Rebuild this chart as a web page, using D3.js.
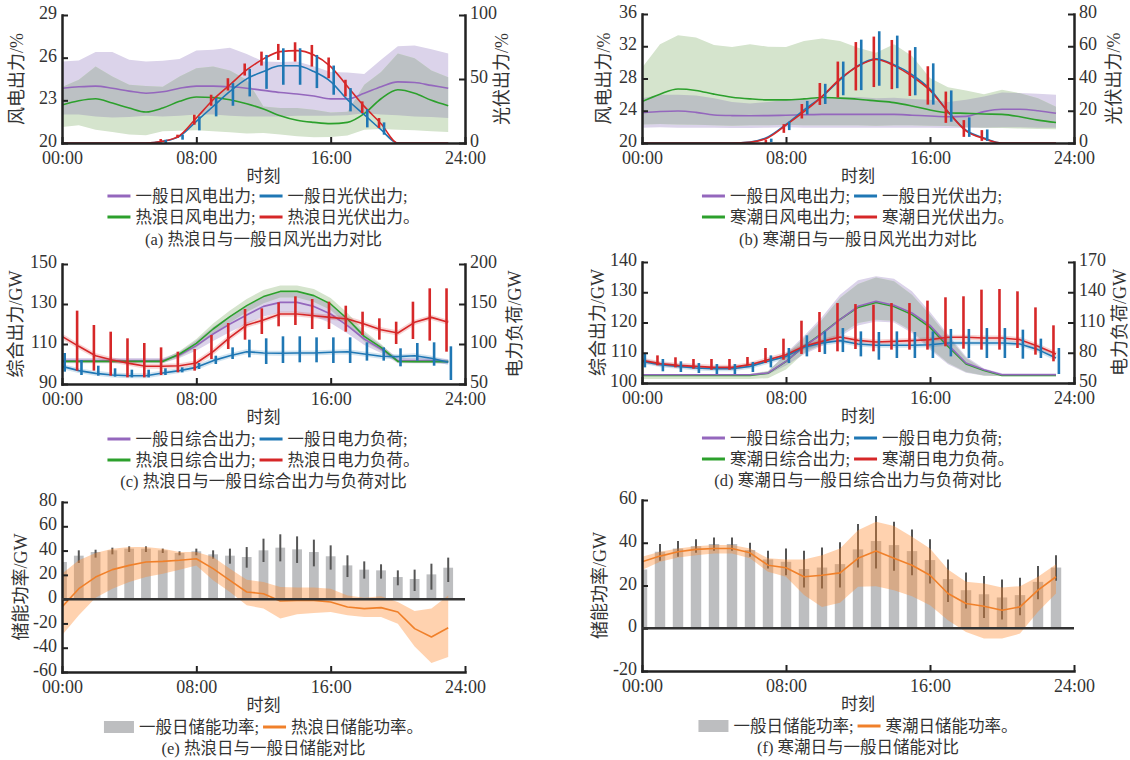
<!DOCTYPE html>
<html>
<head>
<meta charset="utf-8">
<script src="https://cdn.jsdelivr.net/npm/d3@7"></script>
<style>
body { margin: 0; background: #fff; }
</style>
</head>
<body>
<script>
// hours of the day and axis ticks
var hours = [0,1,2,3,4,5,6,7,8,9,10,11,12,13,14,15,16,17,18,19,20,21,22,23];
var hourTicks = [0, 8, 16, 24];

// (a) heat wave vs normal day, wind (left axis) and pv (right axis)
var aWindNormal   = [23.85,23.95,24.0,23.85,23.65,23.5,23.6,23.85,24.0,24.0,23.95,23.85,23.7,23.55,23.45,23.3,23.1,23.1,23.5,23.95,24.3,24.25,24.05,23.85];
var aWindNormalHi = [25.73,25.8,26.4,26.4,25.85,25.73,25.78,25.9,26.5,26.55,26.7,26.25,25.73,25.7,25.73,25.4,25.0,24.95,24.85,25.85,26.8,26.85,26.6,26.3];
var aWindNormalLo = [22.0,22.0,21.87,21.8,21.82,21.92,21.87,21.92,22.0,22.0,21.92,21.87,21.87,21.87,21.92,21.92,21.92,21.95,22.1,22.0,21.95,21.87,21.82,21.76];
var aWindHeat     = [22.67,22.97,23.11,22.81,22.46,22.18,22.46,22.93,23.23,23.2,23.04,22.76,22.39,21.92,21.6,21.45,21.36,21.45,22.06,23.11,23.74,23.5,23.0,22.62];
var aWindHeatHi   = [23.93,24.45,25.38,24.68,24.1,24.0,23.95,24.68,25.26,25.38,25.1,24.45,22.57,22.46,22.46,22.34,22.15,22.2,24.1,25.0,26.3,25.96,25.1,24.63];
var aWindHeatLo   = [21.13,21.25,20.94,20.78,20.6,20.54,20.82,20.87,20.9,20.82,20.75,20.66,20.7,20.6,20.47,20.4,20.42,20.52,20.94,20.99,20.94,20.9,20.82,20.78];
var aPvNormal   = [0,0,0,0,0,0,1.3,5.2,16.9,28.6,40.3,50.1,55.8,60.3,60.3,55.8,48,33.8,22.1,10.4,0,0,0,0];
var aPvNormalLo = [null,null,null,null,null,null,0,2.6,9.9,20.8,29.1,36.4,42.3,45.5,45.5,42.9,37.7,24.7,12.2,6.5,null,null,null,null];
var aPvNormalHi = [null,null,null,null,null,null,2.6,6.5,20.8,35.1,46.8,57.9,68.8,74,74,68.8,60.5,42.9,26.5,16.1,null,null,null,null];
var aPvHeat   = [0,0,0,0,0,0,1.3,5.7,19.5,33.8,45.5,57.1,65.7,71.4,72.2,68.8,59.7,44.2,28.6,15.1,0,0,0,0];
var aPvHeatLo = [null,null,null,null,null,null,0.5,3.9,14.3,29.1,41,52.7,60.5,64.9,63.6,59.7,50.6,36.4,23.4,11.7,null,null,null,null];
var aPvHeatHi = [null,null,null,null,null,null,3.1,6.5,22.1,37.7,50.6,62.1,71.4,77.4,78.7,76.6,66.8,49.4,32.5,19.5,null,null,null,null];

// (b) cold wave vs normal day
var bWindNormal   = [23.76,23.9,23.97,23.8,23.47,23.4,23.38,23.4,23.45,23.5,23.55,23.55,23.55,23.55,23.55,23.45,23.34,23.26,23.3,23.89,24.18,24.18,24.0,23.68];
var bWindNormalHi = [25.56,25.97,25.97,25.9,25.56,25.1,24.9,25.1,25.35,25.45,25.6,25.7,25.7,25.56,25.6,25.45,25.35,25.1,25.35,25.77,26.27,26.2,26.1,25.97];
var bWindNormalLo = [21.9,21.95,21.9,21.9,21.9,21.85,21.85,21.9,21.95,21.9,21.9,21.9,21.9,21.9,21.9,21.9,21.9,21.85,21.85,21.9,21.95,21.95,21.9,21.9];
var bWindCold     = [25.14,26.06,26.69,26.52,26.06,25.68,25.47,25.35,25.35,25.47,25.64,25.56,25.43,25.22,25.01,24.6,24.1,23.76,23.68,23.6,23.55,23.26,22.84,22.55];
var bWindColdHi   = [29.32,32.24,33.37,33.08,32.16,31.9,32.24,31.95,31.9,32.66,32.95,32.66,31.82,31.2,32.24,30.78,28.06,26.93,26.5,26.06,26.6,26.18,25.56,24.51];
var bWindColdLo   = [22.3,22.35,22.3,22.25,22.2,22.15,22.2,22.2,22.25,22.2,22.2,22.2,22.2,22.15,22.2,22.2,22.15,22.1,22.0,21.9,21.85,21.8,21.75,21.7];
var bPvNormal   = [0,0,0,0,0,0,0.6,3.8,11.5,20.5,28.8,39.2,48,52.2,48.6,42.4,33.4,19.4,7.9,3.1,0,0,0,0];
var bPvNormalLo = [null,null,null,null,null,null,null,0.6,8,17.7,24.2,29.6,32.8,35.5,34,29.6,23.8,13.2,3.8,1.3,null,null,null,null];
var bPvNormalHi = [null,null,null,null,null,null,null,2.7,13.2,26.1,36.7,50.5,64.1,69.3,66.6,59.5,49.4,32.6,15.9,8.4,null,null,null,null];
var bPvCold   = [0,0,0,0,0,0,0.5,3.3,11.1,19.4,28.8,39.7,47.6,51.8,48,41.3,32.6,19.4,7.5,2.7,0,0,0,0];
var bPvColdLo = [null,null,null,null,null,null,null,0,6.3,15.2,23.6,28.2,32.6,34.7,33.4,29.2,23.8,12.5,3.8,1.3,null,null,null,null];
var bPvColdHi = [null,null,null,null,null,null,null,2.1,11.7,24.2,37.2,50.5,62.6,66,63.9,57.4,47.6,31.9,14.2,8,null,null,null,null];

// (c) heat wave: combined output (left) and load (right)
var cGenNormal   = [101.7,101.7,101.7,101.7,101.7,101.7,101.7,104.5,109.2,115,120,124.5,128.8,130.8,130.8,128.8,125,119.2,112.5,107.5,101.7,101.7,101.7,101.2];
var cGenNormalHi = [103,103,103,103,103,103,103,106,111.7,118.5,124,129,133.8,135.8,135.8,133.8,129.5,123.2,115.5,109.5,103,103,103,102.5];
var cGenNormalLo = [100.4,100.4,100.4,100.4,100.4,100.4,100.4,103,106.7,111.5,116,120,123.8,125.8,125.8,123.8,120.5,115.2,109.5,105.5,100.4,100.4,100.4,99.9];
var cGenHeat     = [101.3,101.3,101.3,101.3,101.3,101.3,101.3,105,110.3,117.5,123.7,129.2,133.7,136.3,136.3,134.2,130,122.5,113.8,108.3,101.3,101.2,101.2,101.2];
var cGenHeatHi   = [102,102,102,102,102,102,102.2,106.5,112.5,120.3,126.8,132.5,137,139.3,139.3,137.5,133,125.5,116.5,110,102,101.9,101.9,101.9];
var cGenHeatLo   = [100.6,100.6,100.6,100.6,100.6,100.6,100.5,103.5,108.2,114.7,120.6,126,130.4,133.3,133.3,131,127,119.5,111.2,106.5,100.6,100.5,100.5,100.5];
var cLoadNormal   = [72.1,66.7,63.3,61.25,60.4,60.4,63.75,66.7,70.8,79.2,85.4,90.4,88.75,88.5,88.75,88.75,89.6,90.4,87.5,84.6,84.2,85.4,82.1,77.1];
var cLoadNormalHi = [88.75,80,72.9,69.6,67.9,67.9,69.6,70.8,76.25,85.4,95.8,105.4,107.1,109.6,109.6,108.3,108.3,108.3,102.1,95.8,94.6,101.25,102.1,97.1];
var cLoadNormalLo = [65.4,61.25,60.4,59.2,58.3,58.3,61.25,64.6,68.75,75,81.25,83.3,75,76.25,77.1,77.1,76.25,76.25,79.2,79.2,72.1,79.2,72.9,55];
var cLoadHeat   = [109.6,97.1,85.4,80,75.8,72.1,72.1,72.9,76.25,90.4,108.3,123.75,130,137.5,137.5,135.4,133.3,131.25,125,117.9,113.75,127.1,133.3,127.1];
var cLoadHeatHi = [null,141.7,123.75,115.4,107.1,101.25,95.8,90.4,93.75,111.25,126.25,143.75,144.6,152.1,159.6,156.25,152.9,147.9,140.4,132.1,127.9,152.9,169.6,169.6];
var cLoadHeatLo = [null,66.7,66.7,60.4,58.3,58.3,61.25,64.6,66.7,81.25,93.75,105.4,112.5,122.1,123.75,118.75,118.75,115.4,111.25,105.4,100,106.25,104.2,90.4];

// (d) cold wave: combined output (left) and load (right)
var dGenNormal   = [102.75,102.75,102.75,102.75,102.75,102.75,102.75,103.3,107.16,112.12,116.2,120.94,125.34,127.0,125.67,123.14,119.06,112.67,106.61,104.41,102.75,102.75,102.75,102.75];
var dGenNormalHi = [103,103,103,103,103,103,103,103.8,109.8,115.5,121.8,129.2,134,135.3,134.5,130.3,123.5,116,108.8,104.8,103.2,103.2,103.2,103.2];
var dGenNormalLo = [102.4,102.4,102.4,102.4,102.4,102.4,102.4,102.8,105.8,109.5,112.2,115.4,119,120.3,120,116.5,111,106.2,103.4,102.4,102.4,102.4,102.4,102.4];
var dGenCold     = [102.5,102.5,102.5,102.5,102.5,102.5,102.5,103.2,107.1,112.2,116.4,121.0,125.0,126.6,125.3,122.6,118.4,112.1,106.3,104.1,102.5,102.5,102.5,102.5];
var dGenColdHi   = [103,103,103,103,103,103,103,104,109.4,114.9,120.9,128.1,132.7,134.9,133.6,129.2,122.6,115.4,108.3,104.4,102.8,102.8,102.8,102.8];
var dGenColdLo   = [101.3,101.3,101.3,101.3,101.3,101.3,101.3,101.6,104.5,109.9,112.7,116,119.8,120.9,120.6,117.1,111.6,106.6,103.6,102.5,102.2,102.2,102.2,102.2];
var dLoadNormal   = [71.5,68.2,66.5,64.9,64.2,64.2,66.5,71.5,76.4,85.4,89.7,92,88.7,87.4,87.4,87.4,88,89.7,89.7,89.7,89.7,88.7,83.1,74.8];
var dLoadNormalHi = [78.8,73.8,71.5,69.8,68.8,68.8,70.8,77.4,84.7,97.3,101.2,104.5,101.2,100.6,101.2,100.6,101.2,103.6,103.6,104.5,104.5,102.9,94,84.7];
var dLoadNormalLo = [65.5,61.6,60.9,59.9,58.9,58.9,60.9,65.5,69.8,76.4,78.8,80.7,76.4,73.1,74.8,74.8,74.8,76.4,74.8,74.8,74.8,74.1,74.8,58.9];
var dLoadCold   = [72.5,69.2,67.5,66.5,65.5,65.5,68.2,73.1,78.1,86.4,91.3,95.6,92.3,90.7,91.3,92,93,95.3,95.3,94.6,94.6,93,86.4,78.8];
var dLoadColdHi = [null,77.4,75.5,73.8,73.8,73.8,75.8,84.7,94,111.8,120.4,129.3,128.3,127.7,129.3,129.3,131.7,135,136,142.6,143.2,140.9,125,107.2];
var dLoadColdLo = [null,67.5,65.5,64.2,63.2,63.2,67.5,69.8,73.1,78.8,80.7,81.4,83.7,81.4,83.1,83.1,83.1,86.4,84,83.1,83.1,84.7,78.1,71.5];

// (e) storage power, heat wave
var eStorNormal   = [30.6,35.8,38.8,40.2,41.6,41.6,40.2,38,39.4,36.9,35.8,34.7,40.2,42.4,41,38.8,35.3,27.8,24.3,23.7,18.2,16.6,20.4,25.9];
var eStorNormalLo = [null,29.8,34.2,36.9,38.8,38.8,38,36.1,36.1,33.3,29.2,25.9,30.6,31.1,29.8,27,24.3,18.2,16.9,16.9,11.4,6.7,7.8,14.1];
var eStorNormalHi = [null,40.2,40.7,42.4,43.5,43.5,41.6,39.4,41.6,40.2,41.6,42.9,49.8,53.4,51.7,49,44.3,36.1,31.1,28.7,23.7,24.3,29.2,34.2];
var eStorHeat   = [-6.5,8.6,18.2,24.3,27.8,30.6,31.1,32,33.3,25.1,15.5,5.9,4.5,-1.5,-1,-1,-2.4,-6.5,-7.8,-7,-10.6,-24.3,-31.2,-23.5];
var eStorHeatHi = [21,32,38,41.6,42.9,42.9,41.6,38.8,38.8,34.7,25.1,16,14.1,10,9.5,9.5,8.6,3.1,1.2,2.3,-2.4,-9.8,-7.8,3.1];
var eStorHeatLo = [-29.8,-13.3,1.2,8.6,14.1,18.2,21,24.3,27.8,15.5,5.9,-5,-7.8,-16,-12.5,-11.4,-10.6,-13.3,-14.7,-14.7,-20.2,-38.9,-52.6,-47.6];

// (f) storage power, cold wave
var fStorNormal   = [27.5,35.8,37.3,38.4,39.4,39.4,36.6,32.2,31.1,27.7,28.4,30,36.9,40.8,38.9,36.1,31.9,23,17.8,15.9,14.4,15.5,21.7,28.4];
var fStorNormalLo = [null,31.6,33.4,35.3,36.3,36.3,33.4,28,24.8,19.1,18.6,19.1,28.4,28,26.9,24.8,20.9,12.3,9.2,4.8,4.1,6.1,13.6,22.2];
var fStorNormalHi = [null,39.4,40.8,41.6,42.5,42.5,40,36.3,37.3,36.3,37.8,40.2,48.75,52.5,49.8,46.25,41.6,32.2,26.1,24.5,22.8,23.6,29.1,34.2];
var fStorCold   = [31.1,33.75,35.8,36.9,37.3,37.3,35.3,29.5,28.3,24.1,24.8,25.9,32.7,36.1,32.7,29.5,24.8,16.25,11.6,10.3,8.4,10,17.8,24.1];
var fStorColdHi = [33.4,35.8,37.3,38.4,38.9,38.9,37.3,32.7,32.2,32.2,34.2,37.3,45.9,49.8,47.8,42.8,37.3,27.5,21.7,20.9,19.1,19.7,24.1,30];
var fStorColdLo = [27.2,31.1,33.1,34.2,35,35,32.7,26.4,24.1,15.5,10,11.9,19.4,19.7,17.8,15,10.8,3.75,-1.7,-4.8,-4.8,-2.5,7.7,16.25];

// axis ticks
var aTicks = [20, 23, 26, 29],       aTicks2 = [0, 50, 100];
var bTicks = [20, 24, 28, 32, 36],   bTicks2 = [0, 20, 40, 60, 80];
var cTicks = [90, 110, 130, 150],    cTicks2 = [50, 100, 150, 200];
var dTicks = [100, 110, 120, 130, 140], dTicks2 = [50, 80, 110, 140, 170];
var eTicks = [-60, -40, -20, 0, 20, 40, 60, 80];
var fTicks = [-20, 0, 20, 40, 60];

var FONT = '"Liberation Serif", "Noto Sans CJK SC", serif';
var PURPLE = "#9467bd", BLUE = "#1f77b4", GREEN = "#2ca02c", RED = "#d62728", ORANGE = "#f0802a";
var PURPLE_BAND = "#dbd3ea", GREEN_BAND = "#d5e4cd", GREY_BAND = "#bcc1c4";

var svg = d3.select("body").append("svg")
    .attr("width", 1130)
    .attr("height", 760);

var clipCount = 0;

function fmtHour(h){
    return (h < 10 ? "0" : "") + h + ":00";
}

//set up one panel: scales, clip, axes, titles
function makePanel(box, yDom, yTicks, yTitle, y2Dom, y2Ticks, y2Title){
    var p = {box: box};
    p.x = d3.scaleLinear().domain([0, 24]).range([box.left, box.right]);
    p.y = d3.scaleLinear().domain(yDom).range([box.bottom, box.top]);
    if (y2Dom) p.y2 = d3.scaleLinear().domain(y2Dom).range([box.bottom, box.top]);

    var id = "clip" + (clipCount++);
    p.clipId = id;
    svg.append("clipPath").attr("id", id).append("rect")
        .attr("x", box.left)
        .attr("y", box.top - 3)
        .attr("width", box.right - box.left)
        .attr("height", box.bottom - box.top + 3);
    p.plot = svg.append("g").attr("clip-path", "url(#" + id + ")");
    p.axes = svg.append("g");

    p.axes.append("g")
        .attr("transform", "translate(0," + box.bottom + ")")
        .call(d3.axisBottom(p.x).tickValues(hourTicks).tickFormat(fmtHour)
            .tickSize(-6).tickSizeOuter(0).tickPadding(8));
    var yAxes = p.axes.append("g");
    yAxes.append("g")
        .attr("transform", "translate(" + box.left + ",0)")
        .call(d3.axisLeft(p.y).tickValues(yTicks).tickFormat(function(d){ return String(d); })
            .tickSize(-6).tickSizeOuter(0).tickPadding(5));
    if (p.y2) {
        yAxes.append("g")
            .attr("transform", "translate(" + box.right + ",0)")
            .call(d3.axisRight(p.y2).tickValues(y2Ticks).tickFormat(function(d){ return String(d); })
                .tickSize(-6).tickSizeOuter(0).tickPadding(5));
    }
    yAxes.selectAll(".tick text").attr("dy", "0.2em");
    p.axes.selectAll(".domain").attr("stroke", "#222").attr("stroke-width", 2.5).attr("stroke-linecap", "square");
    p.axes.selectAll(".tick line").attr("stroke", "#222").attr("stroke-width", 2);
    p.axes.selectAll(".tick text").attr("font-family", FONT).attr("font-size", 18).attr("fill", "#333");

    var midY = (box.top + box.bottom) / 2;
    svg.append("text")
        .attr("transform", "translate(" + (box.left - box.tl) + "," + midY + ") rotate(-90)")
        .attr("text-anchor", "middle").attr("dominant-baseline", "central")
        .attr("font-family", FONT).attr("font-size", 18).attr("fill", "#333")
        .text(yTitle);
    if (y2Title) {
        svg.append("text")
            .attr("transform", "translate(" + (box.right + box.tr) + "," + midY + ") rotate(-90)")
            .attr("text-anchor", "middle").attr("dominant-baseline", "central")
            .attr("font-family", FONT).attr("font-size", 18).attr("fill", "#333")
            .text(y2Title);
    }
    //x axis title
    svg.append("text")
        .attr("x", (box.left + box.right) / 2).attr("y", box.bottom + 33)
        .attr("text-anchor", "middle").attr("dominant-baseline", "central")
        .attr("font-family", FONT).attr("font-size", 17).attr("fill", "#333")
        .text("时刻");
    return p;
}

function bandArea(p, y, lo, hi){
    return d3.area()
        .x(function(d, i){ return p.x(hours[i]); })
        .y0(function(d, i){ return y(lo[i]); })
        .y1(function(d, i){ return y(hi[i]); })(hours);
}

//two bands and their overlap drawn in grey
function twoBands(p, y, lo1, hi1, lo2, hi2){
    var d1 = bandArea(p, y, lo1, hi1), d2 = bandArea(p, y, lo2, hi2);
    var id = p.clipId + "b" + (clipCount++);
    svg.append("clipPath").attr("id", id).append("path").attr("d", d1);
    p.plot.append("path").attr("d", d1).attr("fill", PURPLE_BAND);
    p.plot.append("path").attr("d", d2).attr("fill", GREEN_BAND);
    p.plot.append("path").attr("d", d2).attr("fill", GREY_BAND).attr("clip-path", "url(#" + id + ")");
}

function drawLine(p, y, vals, color, curve, width){
    var line = d3.line()
        .x(function(d, i){ return p.x(hours[i]); })
        .y(function(d){ return y(d); })
        .curve(curve || d3.curveLinear);
    return p.plot.append("path").datum(vals)
        .attr("d", line)
        .attr("fill", "none")
        .attr("stroke", color)
        .attr("stroke-width", width || 1.6)
        .attr("stroke-linejoin", "round");
}

function errorBars(p, y, lo, hi, color, offset, width){
    p.plot.append("g").selectAll("line")
        .data(hours.filter(function(h){ return lo[h] != null; }))
        .enter().append("line")
        .attr("x1", function(h){ return p.x(h + offset); })
        .attr("x2", function(h){ return p.x(h + offset); })
        .attr("y1", function(h){ return y(lo[h]); })
        .attr("y2", function(h){ return y(hi[h]); })
        .attr("stroke", color)
        .attr("stroke-width", width || 2.6);
}

//legend in a grid, centred under the plot
function legend(cx, cy, rows){
    var g = svg.append("g");
    var colW = [];
    rows.forEach(function(row){
        row.forEach(function(it, j){
            var t = g.append("text").attr("font-family", FONT).attr("font-size", 16.5).text(it.label);
            var w = t.node().getComputedTextLength() + (it.rect ? 30 : 23) + 5;
            t.remove();
            colW[j] = Math.max(colW[j] || 0, w);
        });
    });
    var total = d3.sum(colW) + 4 * (colW.length - 1);
    rows.forEach(function(row, r){
        var xx = cx - total / 2, yy = cy + r * 21;
        row.forEach(function(it, j){
            var sw = it.rect ? 30 : 23;
            if (it.rect) {
                g.append("rect").attr("x", xx).attr("y", yy - 6).attr("width", sw).attr("height", 12).attr("fill", it.color);
            } else {
                g.append("line").attr("x1", xx).attr("x2", xx + sw).attr("y1", yy).attr("y2", yy)
                    .attr("stroke", it.color).attr("stroke-width", 3);
            }
            g.append("text").attr("x", xx + sw + 5).attr("y", yy)
                .attr("dominant-baseline", "central")
                .attr("font-family", FONT).attr("font-size", 16.5).attr("fill", "#333")
                .text(it.label);
            xx += colW[j] + 4;
        });
    });
}

function caption(p, dy, text){
    svg.append("text")
        .attr("x", (p.box.left + p.box.right) / 2).attr("y", p.box.bottom + dy)
        .attr("text-anchor", "middle").attr("dominant-baseline", "central")
        .attr("font-family", FONT).attr("font-size", 16.5).attr("fill", "#333")
        .text(text);
}

// ---------- (a) ----------
var pa = makePanel({left: 62, right: 465, top: 15, bottom: 143, tl: 45, tr: 37},
    [20, 29], aTicks, "风电出力/%", [0, 100], aTicks2, "光伏出力/%");
twoBands(pa, pa.y, aWindNormalLo, aWindNormalHi, aWindHeatLo, aWindHeatHi);
drawLine(pa, pa.y, aWindNormal, PURPLE, d3.curveMonotoneX);
drawLine(pa, pa.y, aWindHeat, GREEN, d3.curveMonotoneX);
drawLine(pa, pa.y2, aPvNormal, BLUE, d3.curveMonotoneX);
drawLine(pa, pa.y2, aPvHeat, RED, d3.curveMonotoneX);
errorBars(pa, pa.y2, aPvHeatLo, aPvHeatHi, RED, -0.12);
errorBars(pa, pa.y2, aPvNormalLo, aPvNormalHi, BLUE, 0.18);
legend((pa.box.left + pa.box.right) / 2, pa.box.bottom + 53, [
    [{color: PURPLE, label: "一般日风电出力;"}, {color: BLUE, label: "一般日光伏出力;"}],
    [{color: GREEN, label: "热浪日风电出力;"}, {color: RED, label: "热浪日光伏出力。"}]
]);
caption(pa, 96, "(a) 热浪日与一般日风光出力对比");

// ---------- (b) ----------
var pb = makePanel({left: 642, right: 1074, top: 14, bottom: 143, tl: 38, tr: 40},
    [20, 36], bTicks, "风电出力/%", [0, 80], bTicks2, "光伏出力/%");
twoBands(pb, pb.y, bWindNormalLo, bWindNormalHi, bWindColdLo, bWindColdHi);
drawLine(pb, pb.y, bWindNormal, PURPLE, d3.curveMonotoneX);
drawLine(pb, pb.y, bWindCold, GREEN, d3.curveMonotoneX);
drawLine(pb, pb.y2, bPvNormal, BLUE, d3.curveMonotoneX);
drawLine(pb, pb.y2, bPvCold, RED, d3.curveMonotoneX);
errorBars(pb, pb.y2, bPvColdLo, bPvColdHi, RED, -0.12);
errorBars(pb, pb.y2, bPvNormalLo, bPvNormalHi, BLUE, 0.18);
legend((pb.box.left + pb.box.right) / 2, pb.box.bottom + 53, [
    [{color: PURPLE, label: "一般日风电出力;"}, {color: BLUE, label: "一般日光伏出力;"}],
    [{color: GREEN, label: "寒潮日风电出力;"}, {color: RED, label: "寒潮日光伏出力。"}]
]);
caption(pb, 96, "(b) 寒潮日与一般日风光出力对比");

// ---------- (c) ----------
var pc = makePanel({left: 62, right: 465, top: 264, bottom: 384, tl: 46, tr: 50},
    [90, 150], cTicks, "综合出力/GW", [50, 200], cTicks2, "电力负荷/GW");
twoBands(pc, pc.y, cGenNormalLo, cGenNormalHi, cGenHeatLo, cGenHeatHi);
drawLine(pc, pc.y, cGenNormal, PURPLE);
drawLine(pc, pc.y, cGenHeat, GREEN);
drawLine(pc, pc.y2, cLoadNormal, BLUE, null, 5).attr("stroke-opacity", 0.2);
drawLine(pc, pc.y2, cLoadHeat, RED, null, 5).attr("stroke-opacity", 0.2);
drawLine(pc, pc.y2, cLoadNormal, BLUE);
drawLine(pc, pc.y2, cLoadHeat, RED);
errorBars(pc, pc.y2, cLoadHeatLo, cLoadHeatHi, RED, -0.1);
errorBars(pc, pc.y2, cLoadNormalLo, cLoadNormalHi, BLUE, 0.16);
legend((pc.box.left + pc.box.right) / 2, pc.box.bottom + 55, [
    [{color: PURPLE, label: "一般日综合出力;"}, {color: BLUE, label: "一般日电力负荷;"}],
    [{color: GREEN, label: "热浪日综合出力;"}, {color: RED, label: "热浪日电力负荷。"}]
]);
caption(pc, 97, "(c) 热浪日与一般日综合出力与负荷对比");

// ---------- (d) ----------
var pd = makePanel({left: 642, right: 1074, top: 262, bottom: 383, tl: 44, tr: 46},
    [100, 140], dTicks, "综合出力/GW", [50, 170], dTicks2, "电力负荷/GW");
twoBands(pd, pd.y, dGenNormalLo, dGenNormalHi, dGenColdLo, dGenColdHi);
drawLine(pd, pd.y, dGenCold, GREEN);
drawLine(pd, pd.y, dGenNormal, PURPLE);
drawLine(pd, pd.y2, dLoadNormal, BLUE, null, 5).attr("stroke-opacity", 0.2);
drawLine(pd, pd.y2, dLoadCold, RED, null, 5).attr("stroke-opacity", 0.2);
drawLine(pd, pd.y2, dLoadNormal, BLUE);
drawLine(pd, pd.y2, dLoadCold, RED);
errorBars(pd, pd.y2, dLoadColdLo, dLoadColdHi, RED, -0.14);
errorBars(pd, pd.y2, dLoadNormalLo, dLoadNormalHi, BLUE, 0.16);
legend((pd.box.left + pd.box.right) / 2, pd.box.bottom + 55, [
    [{color: PURPLE, label: "一般日综合出力;"}, {color: BLUE, label: "一般日电力负荷;"}],
    [{color: GREEN, label: "寒潮日综合出力;"}, {color: RED, label: "寒潮日电力负荷。"}]
]);
caption(pd, 97, "(d) 寒潮日与一般日综合出力与负荷对比");

//storage panels: grey bars, orange line with band
function storagePanel(p, normal, nLo, nHi, ext, eLo, eHi){
    var bw = p.x(0.58) - p.x(0);
    p.plot.append("g").selectAll("rect")
        .data(hours).enter().append("rect")
        .attr("x", function(h){ return p.x(h) - bw / 2; })
        .attr("width", bw)
        .attr("y", function(h){ return p.y(normal[h]); })
        .attr("height", function(h){ return p.y(0) - p.y(normal[h]); })
        .attr("fill", "#bdbec0");
    errorBars(p, p.y, nLo, nHi, "#555", 0, 2);
    p.plot.append("path").attr("d", bandArea(p, p.y, eLo, eHi))
        .attr("fill", "#ff8a2e").attr("fill-opacity", 0.38);
    drawLine(p, p.y, ext, ORANGE, null, 1.6);
    p.axes.append("line")
        .attr("x1", p.box.left).attr("x2", p.box.right)
        .attr("y1", p.y(0)).attr("y2", p.y(0))
        .attr("stroke", "#333").attr("stroke-width", 2.5);
}

// ---------- (e) ----------
var pe = makePanel({left: 62, right: 465, top: 502, bottom: 672, tl: 41},
    [-60, 80], eTicks, "储能功率/GW");
storagePanel(pe, eStorNormal, eStorNormalLo, eStorNormalHi, eStorHeat, eStorHeatLo, eStorHeatHi);
legend((pe.box.left + pe.box.right) / 2, pe.box.bottom + 55, [
    [{color: "#bdbec0", rect: true, label: "一般日储能功率;"}, {color: ORANGE, label: "热浪日储能功率。"}]
]);
caption(pe, 76, "(e) 热浪日与一般日储能对比");

// ---------- (f) ----------
var pf = makePanel({left: 642, right: 1074, top: 500, bottom: 671, tl: 42},
    [-20, 60], fTicks, "储能功率/GW");
storagePanel(pf, fStorNormal, fStorNormalLo, fStorNormalHi, fStorCold, fStorColdLo, fStorColdHi);
legend((pf.box.left + pf.box.right) / 2, pf.box.bottom + 55, [
    [{color: "#bdbec0", rect: true, label: "一般日储能功率;"}, {color: ORANGE, label: "寒潮日储能功率。"}]
]);
caption(pf, 76, "(f) 寒潮日与一般日储能对比");
</script>
</body>
</html>
